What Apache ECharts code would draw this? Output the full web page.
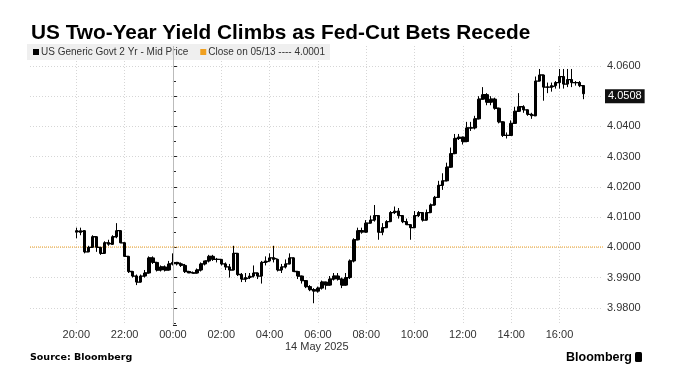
<!DOCTYPE html>
<html>
<head>
<meta charset="utf-8">
<script src="https://cdn.jsdelivr.net/npm/echarts@6/dist/echarts.min.js"></script>
<style>
html,body{margin:0;padding:0;background:#fff;}
#c{width:696px;height:382px;}
</style>
</head>
<body>
<div id="c"></div>
<script>
// ---- data ----
const titleText = 'US Two-Year Yield Climbs as Fed-Cut Bets Recede';
const seriesName = 'US Generic Govt 2 Yr - Mid Price';
const closeName = 'Close on 05/13 ---- 4.0001';
const prevClose = 4.0001;
const sourceText = 'Source: Bloomberg';
const dateLabel = '14 May 2025';
// minutes relative to 14 May 00:00 -> tick label
const xTickLabels = {'-240':'20:00','-120':'22:00','0':'00:00','120':'02:00','240':'04:00','360':'06:00','480':'08:00','600':'10:00','720':'12:00','840':'14:00','960':'16:00'};
const firstBarMinute = -240;   // 13 May 20:00
const barMinutes = 10;         // 10-minute bars
const firstOpen = 4.0055;
const closes = [4.005,4.0055,3.9985,4.000,4.0035,4.000,3.998,4.0015,4.001,4.0035,
4.0055,4.0015,3.997,3.992,3.9905,3.9885,3.9905,3.9915,3.9965,3.995,
3.9925,3.9935,3.9925,3.9945,3.995,3.9945,3.994,3.992,3.9915,3.9915,
3.9925,3.9945,3.9955,3.997,3.996,3.996,3.9945,3.9935,3.9925,3.998,
3.991,3.9895,3.990,3.9905,3.9915,3.9905,3.995,3.9955,3.9965,3.996,
3.9925,3.9935,3.9945,3.9965,3.992,3.9905,3.989,3.987,3.986,3.9855,
3.9865,3.9885,3.9875,3.9895,3.9905,3.9895,3.9875,3.990,3.9955,4.0025,
4.0055,4.005,4.008,4.009,4.0105,4.005,4.0065,4.0085,4.0115,4.012,
4.0105,4.0085,4.0075,4.0065,4.0105,4.0115,4.009,4.0115,4.014,4.0165,
4.0205,4.022,4.0265,4.031,4.036,4.0365,4.035,4.0395,4.0395,4.0425,
4.049,4.0505,4.048,4.049,4.046,4.0415,4.037,4.037,4.041,4.045,
4.0465,4.0455,4.044,4.0435,4.055,4.057,4.053,4.053,4.0535,4.0545,
4.0565,4.054,4.0555,4.0545,4.0545,4.0535,4.0508];
const lows = [4.003,4.004,3.998,3.9985,4.000,3.9985,3.9975,3.998,4.0005,4.001,
4.003,4.0015,3.997,3.9915,3.990,3.9875,3.9885,3.990,3.9915,3.9945,
3.992,3.992,3.992,3.9925,3.994,3.994,3.9935,3.9915,3.9915,3.9915,
3.9915,3.992,3.994,3.995,3.9955,3.995,3.994,3.9925,3.990,3.9925,
3.9905,3.9885,3.9885,3.9895,3.990,3.9895,3.988,3.994,3.9955,3.995,
3.992,3.9915,3.993,3.9945,3.992,3.9895,3.988,3.9865,3.9855,3.9815,
3.985,3.986,3.986,3.9875,3.989,3.989,3.9865,3.9875,3.9895,3.995,
4.0025,4.0045,4.005,4.008,4.0085,4.0025,4.004,4.0065,4.0085,4.011,
4.0095,4.008,4.0075,4.0025,4.0065,4.010,4.0085,4.009,4.0115,4.014,
4.0165,4.019,4.022,4.0265,4.031,4.0355,4.034,4.035,4.0385,4.039,
4.0425,4.049,4.047,4.047,4.0455,4.041,4.0365,4.036,4.037,4.041,
4.045,4.0445,4.0435,4.0425,4.0435,4.055,4.0485,4.051,4.0515,4.0525,
4.0525,4.0525,4.053,4.053,4.0535,4.053,4.049];
const highs = [4.0065,4.0065,4.005,4.0005,4.004,4.0035,4.000,4.002,4.0025,4.004,
4.008,4.0045,4.0015,3.997,3.992,3.991,3.991,3.9925,3.997,3.997,
3.995,3.994,3.994,3.9955,3.998,3.995,3.995,3.9945,3.992,3.992,
3.993,3.995,3.9955,3.9975,3.9975,3.9965,3.996,3.995,3.9945,4.0005,
3.998,3.9915,3.9915,3.9915,3.994,3.9915,3.9955,3.997,3.998,4.0005,
3.996,3.9945,3.996,3.998,3.9965,3.992,3.9905,3.989,3.9875,3.9865,
3.987,3.989,3.9885,3.9905,3.9915,3.9915,3.990,3.9915,3.996,4.003,
4.0065,4.0065,4.009,4.0105,4.014,4.0105,4.008,4.009,4.012,4.0135,
4.013,4.0105,4.0095,4.0075,4.012,4.012,4.0115,4.0125,4.0145,4.017,
4.022,4.0245,4.028,4.033,4.0375,4.0375,4.0365,4.0415,4.0415,4.0435,
4.050,4.053,4.051,4.050,4.0495,4.046,4.0415,4.038,4.042,4.0465,
4.051,4.047,4.0455,4.0445,4.0565,4.059,4.057,4.0545,4.0545,4.055,
4.059,4.059,4.059,4.059,4.055,4.055,4.0535];

// ---- build ----
const xMin = -355, xMax = 1068;
const yMin = 3.9743, yMax = 4.0666;
const barX = closes.map((c, i) => firstBarMinute + i * barMinutes);
const opens = closes.map((c, i) => i === 0 ? firstOpen : closes[i-1]);
const candles = closes.map((c, i) => [barX[i], opens[i], c, lows[i], highs[i]]);
const stepPts = [[barX[0], firstOpen]].concat(closes.map((c, i) => [barX[i], c]));
const lastValue = closes[closes.length - 1];

const chart = echarts.init(document.getElementById('c'), null, {renderer: 'canvas'});
const txt = '#333';
const font = 'Liberation Sans';
chart.setOption({
  animation: false,
  backgroundColor: '#fff',
  textStyle: {fontFamily: font},
  title: {
    text: titleText, left: 26, top: 18,
    textStyle: {fontFamily: font, fontWeight: 'bold', fontSize: 20.8, color: '#000'}
  },
  legend: {
    left: 27, top: 44, padding: [3, 5, 3, 6],
    backgroundColor: '#efefef',
    itemWidth: 6, itemHeight: 6, itemGap: 12, icon: 'rect',
    textStyle: {fontSize: 10, color: txt, fontFamily: font, padding: [0, 0, 0, -3]},
    data: [{name: seriesName, itemStyle: {color: '#000'}}, {name: closeName, itemStyle: {color: '#f0a020'}}]
  },
  grid: {left: 30, right: 93, top: 46, bottom: 57},
  xAxis: {
    type: 'value', min: xMin, max: xMax, minInterval: 120, maxInterval: 120,
    axisLine: {show: false}, axisTick: {show: false},
    axisLabel: {
      color: txt, fontSize: 11, margin: 4, showMinLabel: false, showMaxLabel: false,
      formatter: v => xTickLabels[String(Math.round(v))] || ''
    },
    splitLine: {show: true, showMinLine: false, showMaxLine: false, lineStyle: {color: '#d6d6d6', type: [1, 2], width: 1}}
  },
  yAxis: {
    type: 'value', position: 'right', min: yMin, max: yMax, minInterval: 0.01, maxInterval: 0.01,
    axisLine: {show: true, lineStyle: {color: '#222', width: 1}},
    axisTick: {show: true, length: 4, lineStyle: {color: '#222'}},
    minorTick: {show: true, splitNumber: 2, length: 3, lineStyle: {color: '#222'}},
    axisLabel: {color: txt, fontSize: 11, margin: 4, showMinLabel: false, showMaxLabel: false,
      formatter: v => v.toFixed(4)},
    splitLine: {show: true, showMinLine: false, showMaxLine: false, lineStyle: {color: '#d6d6d6', type: [1, 2], width: 1}}
  },
  series: [
    {
      name: closeName, type: 'line', symbol: 'none', silent: true, z: 1,
      data: [[xMin, prevClose], [xMax, prevClose]],
      lineStyle: {color: '#f0a020', width: 1, type: [1, 1]},
      itemStyle: {color: '#f0a020'},
      markLine: {
        silent: true, symbol: 'none', animation: false,
        data: [{xAxis: 0, lineStyle: {color: '#bbb', type: 'solid', width: 1}, label: {show: false}}]
      }
    },
    {
      name: seriesName, type: 'line', step: 'end', symbol: 'none', silent: true, z: 3,
      data: stepPts, lineStyle: {color: '#000', width: 1.3}, itemStyle: {color: '#000'},
      markLine: {
        silent: true, symbol: 'none', animation: false,
        data: [
          {yAxis: lastValue, lineStyle: {color: 'rgba(0,0,0,0)', width: 0}, label: {
            show: true, position: 'end', distance: 2, formatter: lastValue.toFixed(4),
            backgroundColor: '#111', color: '#fff', fontSize: 11, padding: [2, 3, 1, 3], fontFamily: font
          }}
        ]
      }
    },
    {
      name: seriesName, type: 'candlestick', barWidth: 3, z: 4,
      encode: {x: 0, y: [1, 2, 3, 4]},
      data: candles,
      itemStyle: {color: '#000', color0: '#000', borderColor: '#000', borderColor0: '#000', borderWidth: 1}
    }
  ],
  graphic: [
    {type: 'text', left: 285, top: 341, style: {text: dateLabel, fill: txt, font: '11px "Liberation Sans"'}},
    {type: 'text', left: 30, top: 353, style: {text: sourceText, fill: '#000', font: 'bold 9.5px "DejaVu Sans"'}},
    {type: 'text', left: 566, top: 351, style: {text: 'Bloomberg', fill: '#000', font: 'bold 12.5px "Liberation Sans"'}},
    {type: 'rect', left: 635, top: 352, shape: {width: 7, height: 10, r: 1.5}, style: {fill: '#000'}}
  ]
});
</script>
</body>
</html>
